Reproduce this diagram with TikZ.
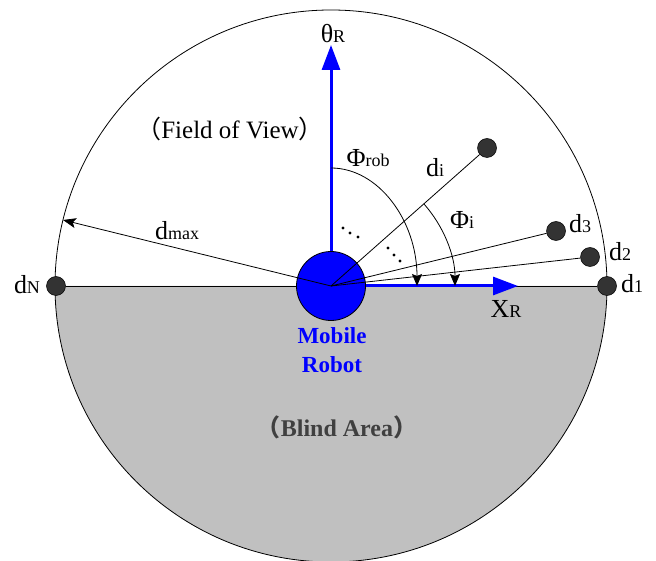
\documentclass[tikz,border=0pt]{standalone}
\usepackage{fontspec}
\setmainfont{Liberation Serif}
\newfontfamily\cjk{Noto Sans CJK SC}
\usetikzlibrary{arrows.meta}
\definecolor{greyfill}{HTML}{C0C0C0}
\definecolor{dotgrey}{HTML}{333333}
\definecolor{blindtxt}{HTML}{404040}
\newcommand\lbl[2]{{\fontsize{26}{26}\selectfont #1}{\fontsize{18}{18}\selectfont #2}}
\begin{document}
\begin{tikzpicture}[x=1pt,y=1pt,
  thin line/.style={line width=0.8pt},
  dotn/.style={circle,fill=dotgrey,draw=black,line width=0.5pt,minimum size=19pt,inner sep=0pt},
  robotn/.style={circle,fill=blue,draw=black,line width=0.8pt,minimum size=69pt,inner sep=0pt},
  blueaxis/.style={draw=blue,line width=3pt,-{Triangle[length=25pt,width=18pt]}},
  anglearrow/.style={thin line,-{Stealth[length=12pt,width=10pt,inset=2pt]}},
  lab/.style={anchor=base,inner sep=0pt},
  edot/.style={circle,fill=black,inner sep=0pt,minimum size=3.2pt}]
\useasboundingbox (0,0) rectangle (656,-561);
\coordinate (C) at (331,-286);
% blind area
\fill[greyfill] (55,-286) arc[start angle=180,end angle=360,radius=276pt] -- cycle;
% outer circle
\draw[thin line] (C) circle[radius=276pt];
% sensor readings
\node[dotn] (d1) at (607,-286) {};
\node[dotn] (dN) at (56,-286) {};
\node[dotn] (d2) at (590,-257) {};
\node[dotn] (d3) at (556,-231) {};
\node[dotn] (di) at (487,-148) {};
\draw[thin line] (dN) -- (d1);
% robot
\node[robotn] (R) at (C) {};
% axes
\coordinate (thtip) at (331,-45);
\coordinate (xtip) at (518,-286);
\draw[blueaxis] (R.north) -- (thtip);
\draw[blueaxis] (R.east) -- (xtip);
% rays
\draw[thin line] (C) -- (di);
\draw[thin line] (C) -- (d3);
\draw[thin line] (C) -- (d2);
\coordinate (dmaxend) at (63,-220);
\draw[thin line,-{Stealth[length=13pt,width=10pt,inset=3pt]}] (C) -- (dmaxend);
% angle arcs
\draw[anglearrow] (331,-168) arc[start angle=90,end angle=0,x radius=86pt,y radius=118pt];
\draw[anglearrow] ([shift={(41.5:124pt)}]C) arc[start angle=41.5,end angle=0,radius=124pt];
% ellipsis dots
\node[edot] (e1) at (343,-228) {};
\node[edot] (e2) at (350,-233) {};
\node[edot] (e3) at (358,-237) {};
\node[edot] (e4) at (388,-248) {};
\node[edot] (e5) at (394,-255) {};
\node[edot] (e6) at (400,-261) {};
% labels
\node[lab] (lth) at (333,-43) {\lbl{θ}{R}};
\node[lab] (lxr) at (506,-318) {\lbl{X}{R}};
\node[lab] (lphirob) at (368,-167) {\lbl{Φ}{rob}};
\node[lab] (lphii) at (462,-229) {\lbl{Φ}{i}};
\node[lab] (ldi) at (435,-177) {\lbl{d}{i}};
\node[lab] (ld3) at (580,-233) {\lbl{d}{3}};
\node[lab] (ld2) at (620,-261) {\lbl{d}{2}};
\node[lab] (ld1) at (632,-293) {\lbl{d}{1}};
\node[lab] (ldN) at (27,-294) {\lbl{d}{N}};
\node[lab] (ldmax) at (177,-240) {\lbl{d}{max}};
\node[lab] (lfov) at (230,-139) {\fontsize{25}{25}\selectfont{\cjk （}Field of View{\cjk ）}};
\node[lab,text=blue,font=\bfseries] (lmob) at (332,-344) {\fontsize{23}{23}\selectfont Mobile};
\node[lab,text=blue,font=\bfseries] (lrob) at (332,-372) {\fontsize{23}{23}\selectfont Robot};
\node[lab,text=blindtxt,font=\bfseries] (lblind) at (337,-436) {\fontsize{24}{24}\selectfont{\cjk （}Blind Area{\cjk ）}};
\end{tikzpicture}
\end{document}
